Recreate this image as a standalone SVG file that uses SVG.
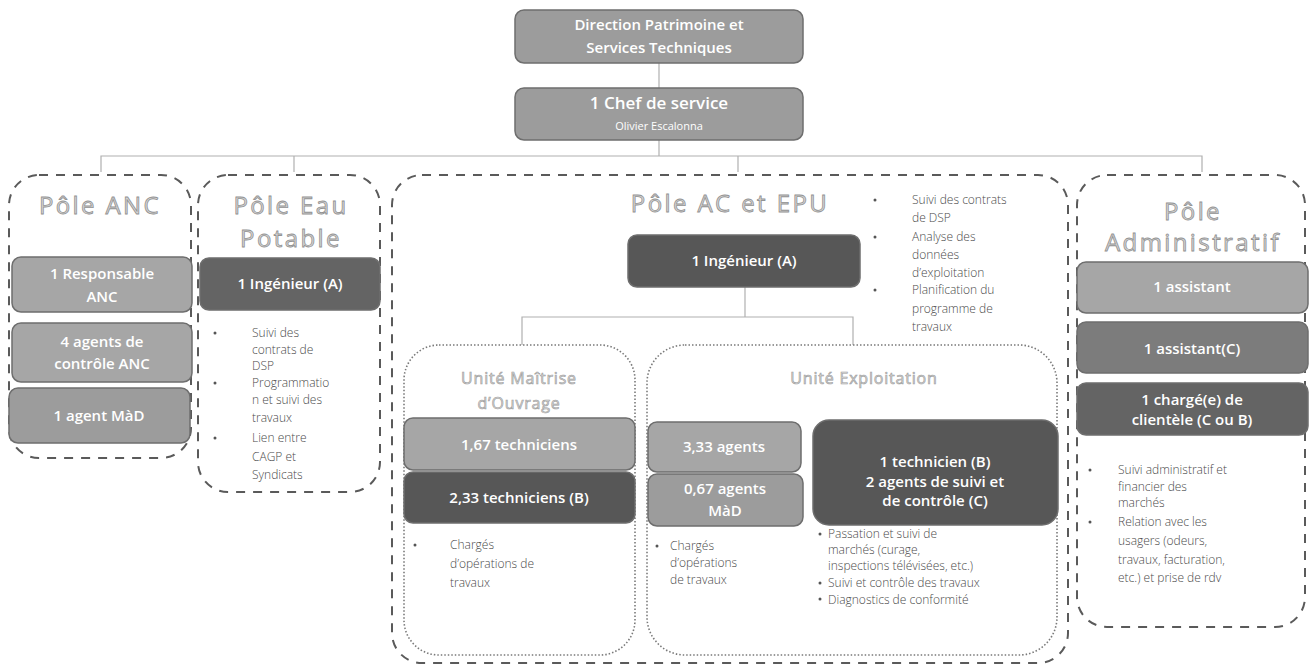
<svg xmlns="http://www.w3.org/2000/svg" width="1310" height="665" viewBox="0 0 1310 665">
<style>
.bg{fill:#ffffff}
.pole{fill:none;stroke:#5a5a5a;stroke-width:2;stroke-dasharray:9 8}
.unit{fill:none;stroke:#7a7a7a;stroke-width:1.6;stroke-dasharray:1.5 2}
.conn{fill:none;stroke:#b0b0b0;stroke-width:1.2}
.box{stroke:#6e6e6e;stroke-width:1.5}
.l1{fill:#a6a6a6}
.l2{fill:#9c9c9c}
.m1{fill:#7c7c7c}
.d1{fill:#646464}
.d2{fill:#575757}
.bt{font-family:"Open Sans","Liberation Sans",sans-serif;fill:#ffffff;text-anchor:middle;font-weight:600}
.ttl{font-family:"Open Sans","Liberation Sans",sans-serif;fill:#d6d6d6;stroke:#929292;stroke-width:0.8;text-anchor:middle;font-size:24px;letter-spacing:2.4px}
.ut{font-family:"Open Sans","Liberation Sans",sans-serif;fill:#d8d8d8;stroke:#9c9c9c;stroke-width:0.6;text-anchor:middle;font-size:16px;letter-spacing:0.8px}
.tx{font-family:"Open Sans","Liberation Sans",sans-serif;fill:#4a4a4a;font-size:12px;font-weight:300}
.bl{fill:#555}
</style>
<rect class="bg" x="0" y="0" width="1310" height="665"/>

<g id="connectors">
<line class="conn" x1="659" y1="63" x2="659" y2="88"/>
<line class="conn" x1="659" y1="140" x2="659" y2="156"/>
<polyline class="conn" points="101,172 101,156 1202,156 1202,172"/>
<line class="conn" x1="294" y1="156" x2="294" y2="172"/>
<line class="conn" x1="738" y1="156" x2="738" y2="172"/>
<line class="conn" x1="745" y1="287" x2="745" y2="317"/>
<polyline class="conn" points="522,345 522,317 853,317 853,345"/>
</g>

<g id="direction">
<rect class="box l2" x="515" y="10" width="288" height="53" rx="9"/>
<text class="bt" x="659" y="30" font-size="15">Direction Patrimoine et</text>
<text class="bt" x="659" y="53" font-size="15">Services Techniques</text>
</g>

<g id="chef">
<rect class="box l2" x="515" y="88" width="288" height="52" rx="9"/>
<text class="bt" x="659" y="109" font-size="17">1 Chef de service</text>
<text class="bt" x="659" y="130" font-size="11" style="font-weight:400">Olivier Escalonna</text>
</g>

<g id="pole-anc">
<rect class="pole" x="9" y="175" width="182" height="283" rx="30"/>
<text class="ttl" x="100" y="214">Pôle ANC</text>
<rect class="box l1" x="12" y="257" width="180" height="55" rx="9"/>
<text class="bt" x="102" y="279" font-size="15">1 Responsable</text>
<text class="bt" x="102" y="302" font-size="15">ANC</text>
<rect class="box l1" x="12" y="323" width="180" height="59" rx="9"/>
<text class="bt" x="102" y="347" font-size="15">4 agents de</text>
<text class="bt" x="102" y="369" font-size="15">contrôle ANC</text>
<rect class="box l2" x="9" y="388" width="181" height="55" rx="9"/>
<text class="bt" x="99" y="421" font-size="15">1 agent MàD</text>
</g>

<g id="pole-eau">
<rect class="pole" x="198" y="175" width="182" height="317" rx="30"/>
<text class="ttl" x="291" y="214">Pôle Eau</text>
<text class="ttl" x="291" y="247">Potable</text>
<rect class="box d1" x="200" y="258" width="180" height="52" rx="9"/>
<text class="bt" x="290" y="289" font-size="15">1 Ingénieur (A)</text>
<circle class="bl" cx="215" cy="333" r="1.5"/>
<circle class="bl" cx="215" cy="383" r="1.5"/>
<circle class="bl" cx="215" cy="438" r="1.5"/>
<text class="tx" x="252" y="337">Suivi des</text>
<text class="tx" x="252" y="354">contrats de</text>
<text class="tx" x="252" y="370">DSP</text>
<text class="tx" x="252" y="387">Programmatio</text>
<text class="tx" x="252" y="404">n et suivi des</text>
<text class="tx" x="252" y="422">travaux</text>
<text class="tx" x="252" y="442">Lien entre</text>
<text class="tx" x="252" y="461">CAGP et</text>
<text class="tx" x="252" y="479">Syndicats</text>
</g>

<g id="pole-ac-epu">
<rect class="pole" x="392" y="175" width="676" height="488" rx="30"/>
<text class="ttl" x="730" y="212">Pôle AC et EPU</text>
<rect class="box d2" x="628" y="235" width="232" height="52" rx="9"/>
<text class="bt" x="744" y="266" font-size="15">1 Ingénieur (A)</text>
<circle class="bl" cx="875" cy="200" r="1.5"/>
<circle class="bl" cx="875" cy="237" r="1.5"/>
<circle class="bl" cx="875" cy="290" r="1.5"/>
<text class="tx" x="912" y="204">Suivi des contrats</text>
<text class="tx" x="912" y="222">de DSP</text>
<text class="tx" x="912" y="241">Analyse des</text>
<text class="tx" x="912" y="259">données</text>
<text class="tx" x="912" y="277">d’exploitation</text>
<text class="tx" x="912" y="294">Planification du</text>
<text class="tx" x="912" y="313">programme de</text>
<text class="tx" x="912" y="331">travaux</text>
</g>

<g id="unite-moa">
<rect class="unit" x="404" y="345" width="231" height="310" rx="35"/>
<text class="ut" x="519" y="384">Unité Maîtrise</text>
<text class="ut" x="519" y="409">d’Ouvrage</text>
<rect class="box l1" x="404" y="418" width="231" height="52" rx="9"/>
<text class="bt" x="519" y="450" font-size="15">1,67 techniciens</text>
<rect class="box d2" x="404" y="472" width="231" height="51" rx="9"/>
<text class="bt" x="519" y="503" font-size="15">2,33 techniciens (B)</text>
<circle class="bl" cx="415" cy="545" r="1.5"/>
<text class="tx" x="450" y="549">Chargés</text>
<text class="tx" x="450" y="568">d’opérations de</text>
<text class="tx" x="450" y="587">travaux</text>
</g>

<g id="unite-exploitation">
<rect class="unit" x="647" y="345" width="410" height="310" rx="38"/>
<text class="ut" x="864" y="384">Unité Exploitation</text>
<rect class="box l1" x="648" y="422" width="153" height="50" rx="9"/>
<text class="bt" x="724" y="452" font-size="15">3,33 agents</text>
<rect class="box l2" x="648" y="474" width="155" height="52" rx="9"/>
<text class="bt" x="725" y="494" font-size="15">0,67 agents</text>
<text class="bt" x="725" y="516" font-size="15">MàD</text>
<circle class="bl" cx="657" cy="546" r="1.5"/>
<text class="tx" x="670" y="550">Chargés</text>
<text class="tx" x="670" y="567">d’opérations</text>
<text class="tx" x="670" y="584">de travaux</text>
<rect class="box d2" x="813" y="420" width="245" height="105" rx="16"/>
<text class="bt" x="935" y="467" font-size="15">1 technicien (B)</text>
<text class="bt" x="935" y="487" font-size="15">2 agents de suivi et</text>
<text class="bt" x="935" y="506" font-size="15">de contrôle (C)</text>
<circle class="bl" cx="820" cy="534" r="1.5"/>
<circle class="bl" cx="820" cy="583" r="1.5"/>
<circle class="bl" cx="820" cy="599" r="1.5"/>
<text class="tx" x="828" y="538">Passation et suivi de</text>
<text class="tx" x="828" y="554">marchés (curage,</text>
<text class="tx" x="828" y="570">inspections télévisées, etc.)</text>
<text class="tx" x="828" y="587">Suivi et contrôle des travaux</text>
<text class="tx" x="828" y="604">Diagnostics de conformité</text>
</g>

<g id="pole-administratif">
<rect class="pole" x="1077" y="175" width="228" height="452" rx="30"/>
<text class="ttl" x="1193" y="220">Pôle</text>
<text class="ttl" x="1193" y="251">Administratif</text>
<rect class="box l1" x="1077" y="262" width="231" height="51" rx="9"/>
<text class="bt" x="1192" y="292" font-size="15">1 assistant</text>
<rect class="box m1" x="1077" y="322" width="231" height="51" rx="9"/>
<text class="bt" x="1192" y="354" font-size="15">1 assistant(C)</text>
<rect class="box d1" x="1077" y="383" width="231" height="52" rx="9"/>
<text class="bt" x="1192" y="405" font-size="15">1 chargé(e) de</text>
<text class="bt" x="1192" y="425" font-size="15">clientèle (C ou B)</text>
<circle class="bl" cx="1090" cy="470" r="1.5"/>
<circle class="bl" cx="1090" cy="522" r="1.5"/>
<text class="tx" x="1118" y="474">Suivi administratif et</text>
<text class="tx" x="1118" y="491">financier des</text>
<text class="tx" x="1118" y="507">marchés</text>
<text class="tx" x="1118" y="526">Relation avec les</text>
<text class="tx" x="1118" y="545">usagers (odeurs,</text>
<text class="tx" x="1118" y="564">travaux, facturation,</text>
<text class="tx" x="1118" y="582">etc.) et prise de rdv</text>
</g>
</svg>
